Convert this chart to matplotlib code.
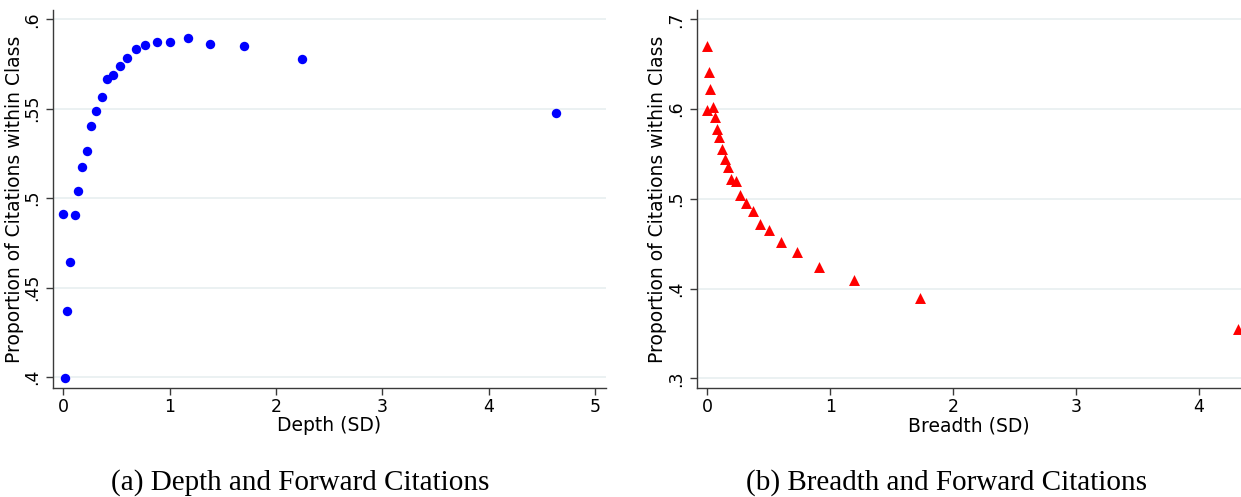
import matplotlib
matplotlib.use("Agg")
import matplotlib.pyplot as plt

# Panel (a): Depth vs proportion of citations within class
depth_x = [0.0, 0.013, 0.035, 0.066, 0.107, 0.138, 0.179, 0.220, 0.263, 0.310,
           0.360, 0.410, 0.470, 0.533, 0.600, 0.680, 0.771, 0.877, 1.006, 1.169,
           1.382, 1.701, 2.247, 4.634]
depth_y = [0.4911, 0.3993, 0.4371, 0.4643, 0.4904, 0.5040, 0.5172, 0.5264, 0.5405, 0.5485,
           0.5564, 0.5666, 0.5689, 0.5741, 0.5782, 0.5836, 0.5858, 0.5873, 0.5871, 0.5894,
           0.5864, 0.5853, 0.5778, 0.5474]

# Panel (b): Breadth vs proportion of citations within class
breadth_x = [0.0, 0.011, 0.024, 0.0, 0.043, 0.062, 0.079, 0.098, 0.117, 0.144,
             0.168, 0.193, 0.231, 0.269, 0.315, 0.369, 0.429, 0.504, 0.602, 0.730,
             0.911, 1.193, 1.728, 4.315]
breadth_y = [0.6706, 0.6417, 0.6220, 0.5986, 0.6019, 0.5908, 0.5781, 0.5685, 0.5559, 0.5447,
             0.5351, 0.5217, 0.5202, 0.5046, 0.4957, 0.4860, 0.4723, 0.4649, 0.4515, 0.4411,
             0.4240, 0.4095, 0.3891, 0.3547]

ylab = "Proportion of Citations within Class"
depth_xticks = [0, 1, 2, 3, 4, 5]
depth_yticks = [0.4, 0.45, 0.5, 0.55, 0.6]
depth_yticklabels = [".4", ".45", ".5", ".55", ".6"]
breadth_xticks = [0, 1, 2, 3, 4]
breadth_yticks = [0.3, 0.4, 0.5, 0.6, 0.7]
breadth_yticklabels = [".3", ".4", ".5", ".6", ".7"]

W, H = 1241, 497
fig = plt.figure(figsize=(W / 100, H / 100), dpi=100)

def px_axes(l, t, r, b):
    return fig.add_axes([l / W, 1 - b / H, (r - l) / W, (b - t) / H])

grid_c = "#e8eff0"
spine_c = "#3a3a3a"

def style(ax, xticks, yticks, ylabels, xlabel, l, t, r, b, ylab_x):
    for s in ["top", "right"]:
        ax.spines[s].set_visible(False)
    for s in ["left", "bottom"]:
        ax.spines[s].set_color(spine_c)
        ax.spines[s].set_linewidth(1.0)
    ax.set_xticks(xticks)
    ax.set_xticklabels([str(tk) for tk in xticks])
    ax.set_yticks(yticks)
    ax.set_yticklabels(ylabels, rotation=90, va="center")
    ax.tick_params(axis="both", direction="out", length=5, width=1.0,
                   color=spine_c, labelsize=12.5, labelcolor="black")
    ax.tick_params(axis="y", pad=3.5)
    ax.tick_params(axis="x", pad=2)
    ax.grid(axis="y", color=grid_c, linewidth=1.2)
    ax.set_axisbelow(True)
    ax.set_xlabel(xlabel, fontsize=13.5, va="center")
    ax.xaxis.set_label_coords(0.5, (b - 425.5) / (b - t))
    ax.set_ylabel(ylab, fontsize=13.5, va="center")
    ax.yaxis.set_label_coords((ylab_x - l) / (r - l), 0.5)

L1 = (53.3, 10, 605.7, 388)
ax1 = px_axes(*L1)
ax1.scatter(depth_x, depth_y, s=46, color="#0000ff", marker="o", linewidths=0, zorder=3)
ax1.set_xlim(-0.094, 5.098)
ax1.set_ylim(0.3938, 0.6052)
style(ax1, depth_xticks, depth_yticks, depth_yticklabels, "Depth (SD)", *L1, ylab_x=15)

L2 = (697.3, 10, 1241, 388.3)
ax2 = px_axes(*L2)
ax2.scatter(breadth_x, breadth_y, s=62, color="#ff0000", marker="^", linewidths=0, zorder=3,
            clip_on=True)
ax2.set_xlim(-0.081, 4.343)
ax2.set_ylim(0.2889, 0.7104)
style(ax2, breadth_xticks, breadth_yticks, breadth_yticklabels, "Breadth (SD)", *L2, ylab_x=657.5)

fig.text(300 / W, 1 - 483 / H, "(a) Depth and Forward Citations",
         family="Liberation Serif", fontsize=21, ha="center", va="center")
fig.text(946 / W, 1 - 483 / H, "(b) Breadth and Forward Citations",
         family="Liberation Serif", fontsize=21, ha="center", va="center")

fig.savefig("out.png", dpi=100)
